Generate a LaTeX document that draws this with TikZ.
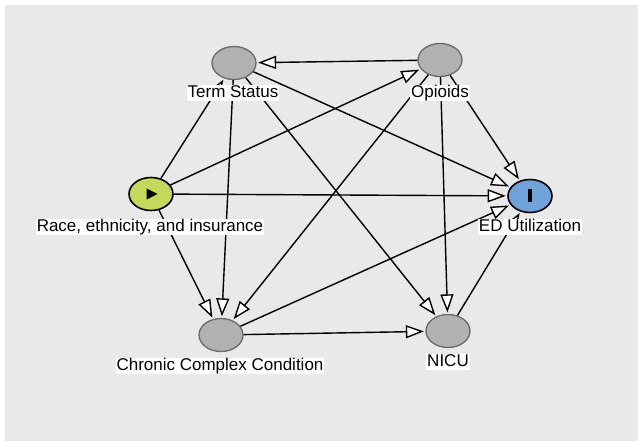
\documentclass[tikz,border=0pt]{standalone}
\usepackage{fontspec}
\setmainfont{Liberation Sans}
\usetikzlibrary{arrows.meta,shapes.geometric}

\definecolor{bggray}{HTML}{E9E9E9}
\definecolor{nodegray}{HTML}{B1B1B1}
\definecolor{nodeedge}{HTML}{6A6A6A}
\definecolor{expogreen}{HTML}{C4D85C}
\definecolor{outblue}{HTML}{70A3DA}

\begin{document}
\begin{tikzpicture}[x=1pt,y=-1pt,
    var/.style={ellipse,draw=nodeedge,fill=nodegray,line width=1.3pt,
        minimum width=44pt,minimum height=33pt,inner sep=0pt},
    expo/.style={var,draw=black,fill=expogreen,line width=1.6pt},
    outc/.style={var,draw=black,fill=outblue,line width=1.6pt},
    lbl/.style={fill=white,inner xsep=1pt,inner ysep=0pt,text height=12.5pt,
        text depth=3.5pt,font=\fontsize{17}{19}\selectfont},
    edge/.style={line width=1.4pt,shorten >=1.5pt,
        -{Triangle[length=18pt,width=13pt,fill=white]}}]
    \useasboundingbox (0,0) rectangle (638,441);
    \fill[bggray] (5,5) rectangle (638,441);

    % variables
    \node[var] (ts) at (234,63) {};
    \node[var] (op) at (440,60) {};
    \node[expo] (race) at (151,194) {};
    \node[outc] (ed) at (530,196) {};
    \node[var] (ccc) at (221,335) {};
    \node[var] (nicu) at (448,331) {};
    \fill (146.7,188.5) -- (157.5,194) -- (146.7,199.5) -- cycle;
    \fill (528,189.5) rectangle (531.7,202.5);

    % arrows
    \draw[edge] (op) -- (ts);
    \draw[edge] (race) -- (ts);
    \draw[edge] (race) -- (op);
    \draw[edge] (race) -- (ed);
    \draw[edge] (race) -- (ccc);
    \draw[edge] (ts) -- (ed);
    \draw[edge] (ts) -- (ccc);
    \draw[edge] (ts) -- (nicu);
    \draw[edge] (op) -- (ed);
    \draw[edge] (op) -- (ccc);
    \draw[edge] (op) -- (nicu);
    \draw[edge] (ccc) -- (ed);
    \draw[edge] (ccc) -- (nicu);
    \draw[edge] (nicu) -- (ed);

    % names
    \node[lbl] (tsL) at (233,93) {Term Status};
    \node[lbl] (opL) at (440,93) {Opioids};
    \node[lbl] (raceL) at (150,227) {Race, ethnicity, and insurance};
    \node[lbl] (edL) at (530,227) {ED Utilization};
    \node[lbl] (cccL) at (220,366) {Chronic Complex Condition};
    \node[lbl] (nicuL) at (448,362) {NICU};
\end{tikzpicture}
\end{document}
